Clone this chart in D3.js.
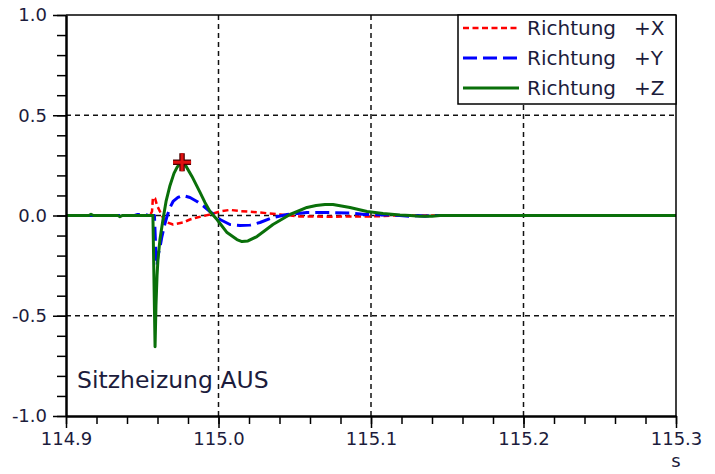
<!DOCTYPE html>
<html>
<head>
<meta charset="utf-8">
<script src="https://cdn.jsdelivr.net/npm/d3@7"></script>
<style>
  body { margin: 0; background: #fff; }
  svg { display: block; font-family: "DejaVu Sans", Verdana, sans-serif; }
</style>
</head>
<body>
<div id="chart"></div>
<script>
// series values (time in s, value)
var tX = [114.9, 114.955, 114.9564, 114.957, 114.9584, 114.9597, 114.9616, 114.9649, 114.9702, 114.9767,
          114.9813, 114.9859, 114.9944, 115.001, 115.0075, 115.0141, 115.0272, 115.0403, 115.0534, 115.0731,
          115.1059, 115.1157, 115.3];
var vX = [0, 0, 0.02, 0.09, 0.085, 0.05, 0.02, -0.03, -0.045, -0.035,
          -0.02, -0.01, 0.005, 0.02, 0.028, 0.022, 0.015, 0.005, -0.005, -0.006,
          -0.004, 0, 0];

var tY = [114.9, 114.945, 114.947, 114.952, 114.954, 114.958, 114.959, 114.9597, 114.9603, 114.9616,
          114.9629, 114.9649, 114.9662, 114.9682, 114.9702, 114.9734, 114.9767, 114.9813, 114.9859, 114.9905,
          114.9944, 115.001, 115.0075, 115.0141, 115.0207, 115.0272, 115.0357, 115.0449, 115.058, 115.0731,
          115.0862, 115.096, 115.1125, 115.119, 115.1269, 115.1308, 115.1354, 115.14, 115.3];
var vY = [0, 0, 0.005, 0.005, 0, 0, -0.2, -0.25, -0.2, -0.16,
          -0.105, -0.04, -0.005, 0.04, 0.07, 0.09, 0.1, 0.09, 0.07, 0.045,
          0.02, -0.02, -0.045, -0.05, -0.048, -0.035, -0.01, 0.005, 0.015, 0.015,
          0.012, 0.005, 0.003, 0, -0.005, 0, -0.004, 0, 0];

var tZ = [114.9, 114.915, 114.9164, 114.918, 114.934, 114.9354, 114.937, 114.957, 114.9584, 114.959,
          114.9597, 114.9603, 114.9616, 114.9636, 114.9656, 114.9682, 114.9708, 114.9728, 114.9748, 114.9761,
          114.978, 114.9826, 114.9879, 114.9911, 114.9944, 114.999, 115.0056, 115.0121, 115.0154, 115.0193,
          115.0252, 115.0305, 115.0357, 115.0469, 115.058, 115.064, 115.0698, 115.0751, 115.0862, 115.0974,
          115.1079, 115.119, 115.1256, 115.1321, 115.14, 115.1452, 115.3];
var vZ = [0, 0, 0.006, 0, 0, -0.006, 0, 0, -0.655, -0.45,
          -0.3, -0.22, -0.12, -0.02, 0.07, 0.15, 0.21, 0.24, 0.26, 0.265,
          0.255, 0.195, 0.115, 0.065, 0.02, -0.02, -0.085, -0.12, -0.13, -0.127,
          -0.105, -0.075, -0.045, 0.005, 0.04, 0.05, 0.055, 0.055, 0.04, 0.02,
          0.01, 0.003, 0, -0.004, -0.004, 0, 0];

// peak marker
var markT = 114.9761, markV = 0.265;

var xMajor = [114.9, 115.0, 115.1, 115.2, 115.3];
var yMajor = [-1.0, -0.5, 0.0, 0.5, 1.0];
var legendNames = ["Richtung", "Richtung", "Richtung"];
var legendDirs = ["+X", "+Y", "+Z"];
var noteText = "Sitzheizung AUS";
var unitText = "s";

var width = 715, height = 474;
var margin = {top: 15, right: 39, bottom: 58, left: 66},
    w = width - margin.left - margin.right,
    h = height - margin.top - margin.bottom;

var svg = d3.select("#chart").append("svg")
  .attr("width", width)
  .attr("height", height);

var g = svg.append("g")
  .attr("transform", "translate(" + margin.left + "," + margin.top + ")");

var x = d3.scaleLinear().domain([114.9, 115.3]).range([0, w]);
var y = d3.scaleLinear().domain([-1, 1]).range([h, 0]);

var ink = "#1c1c3c";

// dashed grid
g.selectAll(".gx").data(xMajor.slice(1, -1)).enter().append("line")
  .attr("x1", function(d) { return x(d); }).attr("x2", function(d) { return x(d); })
  .attr("y1", 0).attr("y2", h)
  .style("stroke", "#111").style("stroke-width", 1.5).style("stroke-dasharray", "5,4");
g.selectAll(".gy").data(yMajor.slice(1, -1)).enter().append("line")
  .attr("x1", 0).attr("x2", w)
  .attr("y1", function(d) { return y(d); }).attr("y2", function(d) { return y(d); })
  .style("stroke", "#111").style("stroke-width", 1.5).style("stroke-dasharray", "5,4");

// curves
var line = d3.line()
  .x(function(d) { return x(d[0]); })
  .y(function(d) { return y(d[1]); });

function pairs(ts, vs) { return ts.map(function(t, i) { return [t, vs[i]]; }); }

// drawn X, Y, then Z on top
var series = [
  {data: pairs(tX, vX), color: "#ff0000", dash: "6,3.5", sw: 2.5},
  {data: pairs(tY, vY), color: "#0000ff", dash: "14,6", sw: 3},
  {data: pairs(tZ, vZ), color: "#0a700a", dash: null, sw: 3}
];
series.forEach(function(s) {
  g.append("path")
    .datum(s.data)
    .attr("d", line)
    .style("fill", "none")
    .style("stroke", s.color)
    .style("stroke-width", s.sw)
    .style("stroke-dasharray", s.dash)
    .style("stroke-linejoin", "round");
});

// marker "+"
var mx = x(markT), my = y(markV), ms = 9;
var plus = "M" + (mx - ms) + "," + my + "H" + (mx + ms) + "M" + mx + "," + (my - ms) + "V" + (my + ms);
g.append("path").attr("d", plus).style("stroke", "#4a0000").style("stroke-width", 5.5);
g.append("path").attr("d", plus).style("stroke", "#e01010").style("stroke-width", 3);

// frame
g.append("line").attr("x1", 0).attr("x2", w).attr("y1", 0).attr("y2", 0)
  .style("stroke", "#000").style("stroke-width", 1.5);
g.append("line").attr("x1", w).attr("x2", w).attr("y1", 0).attr("y2", h)
  .style("stroke", "#000").style("stroke-width", 1.5);

// minor ticks
var xMinor = d3.range(0, 21).map(function(i) { return 114.9 + i * 0.02; });
var yMinor = d3.range(0, 21).map(function(i) { return -1 + i * 0.1; });
g.append("g").attr("class", "axis")
  .attr("transform", "translate(0," + h + ")")
  .call(d3.axisBottom(x).tickValues(xMinor).tickSize(8).tickSizeOuter(0).tickFormat(""));
g.append("g").attr("class", "axis")
  .call(d3.axisLeft(y).tickValues(yMinor).tickSize(9).tickSizeOuter(0).tickFormat(""));

// major axes
g.append("g").attr("class", "axis lab")
  .attr("transform", "translate(0," + h + ")")
  .call(d3.axisBottom(x).tickValues(xMajor).tickSize(12).tickSizeOuter(0).tickPadding(4)
    .tickFormat(function(d) { return d.toFixed(1); }));
g.append("g").attr("class", "axis lab")
  .call(d3.axisLeft(y).tickValues(yMajor).tickSize(13).tickSizeOuter(0).tickPadding(6)
    .tickFormat(function(d) { return d.toFixed(1); }));

svg.selectAll(".axis path").style("stroke", "#000").style("stroke-width", 2);
svg.selectAll(".axis line").style("stroke", "#000").style("stroke-width", 1.5);
svg.selectAll(".lab text")
  .style("font-family", "'DejaVu Sans', Verdana, sans-serif")
  .style("font-size", "18px")
  .style("fill", ink);

// unit
g.append("text")
  .attr("x", w).attr("y", h + 51)
  .attr("text-anchor", "middle")
  .style("font-size", "18px").style("fill", ink)
  .text(unitText);

// note
g.append("text")
  .attr("x", 77 - margin.left).attr("y", 388 - margin.top)
  .style("font-size", "23.5px").style("fill", ink)
  .text(noteText);

// legend
var lg = g.append("g").attr("transform", "translate(" + (458 - margin.left) + ",0)");
lg.append("rect")
  .attr("x", 0).attr("y", 0).attr("width", 218).attr("height", 89)
  .style("fill", "#fff").style("stroke", "#000").style("stroke-width", 1.5);
legendDirs.forEach(function(dir, i) {
  var cy = 13 + i * 30;
  lg.append("line")
    .attr("x1", 5).attr("x2", 61).attr("y1", cy).attr("y2", cy)
    .style("stroke", series[i].color)
    .style("stroke-width", series[i].sw)
    .style("stroke-dasharray", series[i].dash);
  lg.append("text")
    .attr("x", 69).attr("y", cy + 7)
    .style("font-size", "20px").style("fill", ink)
    .text(legendNames[i]);
  lg.append("text")
    .attr("x", 176).attr("y", cy + 7)
    .style("font-size", "20px").style("fill", ink)
    .text(dir);
});
</script>
</body>
</html>
